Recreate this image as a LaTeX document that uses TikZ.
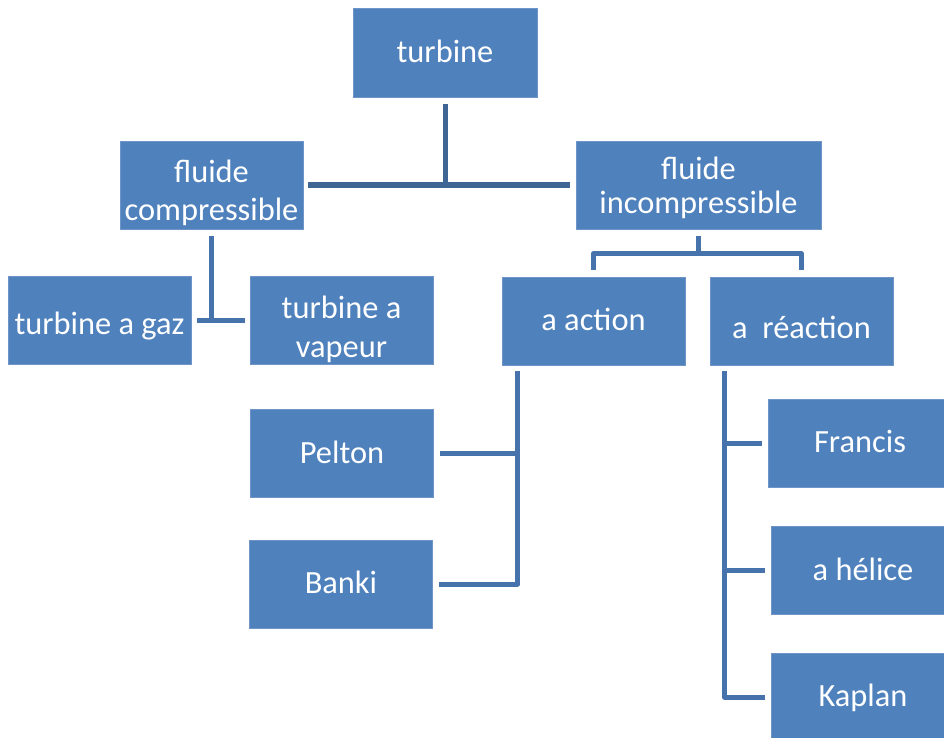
\documentclass[tikz,border=0pt]{standalone}
\usepackage{fontspec}
\setmainfont{Carlito}
\definecolor{boxblue}{HTML}{4F81BD}
\definecolor{boxedge}{HTML}{6E94C8}
\definecolor{lineA}{HTML}{3F6595}
\definecolor{lineB}{HTML}{4673AC}
\newcommand\twol[2]{\vbox{\halign{\hfil##\hfil\cr #1\cr #2\cr}}}
\begin{document}
\begin{tikzpicture}[x=1pt,y=-1pt,
  box/.style={fill=boxblue, draw=boxedge, line width=0.8pt, text=white, inner sep=0pt,
    minimum width=183pt, minimum height=88pt, font=\fontsize{32.4}{38}\selectfont},
  bl/.style={text height=#1, text depth=0pt},
  linkA/.style={draw=lineA, line width=5pt, line join=round},
  linkB/.style={draw=lineB, line width=5pt, line join=round}]
\clip (0,0) rectangle (944,738);
\useasboundingbox (0,0) rectangle (944,738);
\node[box, minimum width=184pt, minimum height=89pt, bl=20.6pt] (turbine) at (445,52.7) {turbine};
\node[box, bl=71.4pt] (fc) at (211.5,185) {\twol{fluide}{compressible}};
\node[box, minimum width=245pt, bl=56pt, font=\fontsize{32.4}{34}\selectfont] (fi) at (698.5,185) {\twol{fluide}{incompressible}};
\node[box, bl=28pt] (gaz) at (99.5,320) {turbine a gaz};
\node[box, bl=75.4pt, font=\fontsize{32.4}{39.7}\selectfont] (vapeur) at (341.5,320) {\twol{turbine a}{vapeur}};
\node[box, bl=18pt] (action) at (593.5,321) {a action};
\node[box, bl=34pt] (reaction) at (801.5,321) {a\ \ réaction};
\node[box, bl=20.6pt] (pelton) at (342,453) {Pelton};
\node[box, bl=18.6pt] (banki) at (341,584) {Banki};
\node[box, minimum width=184pt, bl=19.4pt] (francis) at (860,443) {Francis};
\node[box, bl=20pt] (helice) at (863,570) {a hélice};
\node[box, bl=19.4pt] (kaplan) at (863,697) {Kaplan};
% turbine
\draw[linkA] ([yshift=-6pt]turbine.south) -- (turbine.south |- fc.east);
\draw[linkA] ([xshift=5pt]fc.east) -- ([xshift=-6pt]fi.west);
% fluide compressible
\draw[linkB] ([yshift=-7pt]fc.south) -- (fc.south |- gaz.east);
\draw[linkB] ([xshift=6pt]gaz.east) -- ([xshift=-5pt]vapeur.west);
% fluide incompressible
\draw[linkB] ([yshift=-7pt]fi.south) -- ([yshift=-25pt]fi.south);
\draw[linkB] ([yshift=7pt]action.north) -- ([yshift=23pt]action.north) -| ([yshift=7pt]reaction.north);
% a action
\coordinate (av) at ([xshift=16pt]action.south west);
\draw[linkB] ([yshift=-6pt]av) |- ([xshift=6pt]banki.east);
\draw[linkB] ([xshift=6pt]pelton.east) -- (pelton.east -| av);
% a reaction
\coordinate (rv) at ([xshift=15pt]reaction.south west);
\draw[linkB] ([yshift=-6pt]rv) |- ([xshift=-6pt]kaplan.west);
\draw[linkB] ([xshift=-6pt]francis.west) -- (francis.west -| rv);
\draw[linkB] ([xshift=-6pt]helice.west) -- (helice.west -| rv);
\end{tikzpicture}
\end{document}
